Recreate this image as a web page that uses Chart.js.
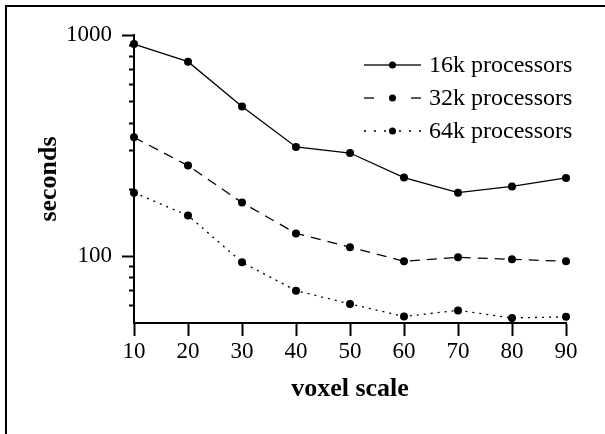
<!DOCTYPE html>
<html><head><meta charset="utf-8">
<script src="https://cdn.jsdelivr.net/npm/chart.js@4.4.0/dist/chart.umd.min.js"></script>
<style>
html,body{margin:0;padding:0;background:#fff;overflow:hidden;}
#wrap{position:relative;width:605px;height:434px;overflow:hidden;}
#frame{position:absolute;left:5px;top:5px;width:700px;height:600px;border-left:2px solid #000;border-top:2px solid #000;pointer-events:none;}
canvas{position:absolute;left:0;top:0;}
</style></head><body>
<div id="wrap"><canvas id="c" width="605" height="434"></canvas><div id="frame"></div></div>
<script>
const voxelScale = [10, 20, 30, 40, 50, 60, 70, 80, 90];
const seconds16k = [910, 758, 475, 312, 293, 227, 194, 207, 226];
const seconds32k = [345, 257, 175, 127, 110, 95, 99, 97, 95];
const seconds64k = [194, 153, 94, 70, 61, 53.5, 57, 52.7, 53.3];
const seriesLabels = ['16k processors', '32k processors', '64k processors'];
const majorYTicks = [100, 1000];
const minorYTicks = [60, 70, 80, 90, 200, 300, 400, 500, 600, 700, 800, 900];
const xTicks = [10, 20, 30, 40, 50, 60, 70, 80, 90];

const FAMILY = "'Liberation Serif', 'Times New Roman', serif";
const seriesValues = [seconds16k, seconds32k, seconds64k];
const seriesDash = [[], [10, 7], [2, 5]];
const legendDash = [[], [10, 30], [2, 8]];

const datasets = seriesValues.map((vals, i) => ({
  label: seriesLabels[i],
  data: voxelScale.map((x, j) => ({ x: x, y: vals[j] })),
  borderColor: '#000',
  backgroundColor: '#000',
  borderWidth: 1.3,
  borderDash: seriesDash[i],
  pointRadius: 4,
  pointBorderWidth: 0,
  pointBackgroundColor: '#000',
  clip: false,
  yAxisID: 'y',
  xAxisID: 'x'
}));

const legendPlugin = {
  id: 'customLegend',
  afterDraw(chart) {
    const ctx = chart.ctx;
    const x0 = 364, x1 = 421, xm = 392.5, tx = 429;
    const rows = [65, 98, 131];
    chart.data.datasets.forEach((ds, i) => {
      const y = rows[i];
      ctx.save();
      ctx.strokeStyle = '#000';
      ctx.fillStyle = '#000';
      ctx.lineWidth = ds.borderWidth;
      ctx.setLineDash(legendDash[i]);
      ctx.beginPath(); ctx.moveTo(x0, y); ctx.lineTo(xm, y); ctx.stroke();
      ctx.beginPath(); ctx.moveTo(x1, y); ctx.lineTo(xm, y); ctx.stroke();
      ctx.setLineDash([]);
      ctx.beginPath(); ctx.arc(xm, y, 3.5, 0, Math.PI * 2); ctx.fill();
      ctx.font = '24px ' + FAMILY;
      ctx.textBaseline = 'middle';
      ctx.textAlign = 'left';
      ctx.fillText(ds.label, tx, y + 1);
      ctx.restore();
    });
  }
};

new Chart(document.getElementById('c'), {
  type: 'line',
  data: { datasets: datasets },
  plugins: [legendPlugin],
  options: {
    responsive: false,
    animation: false,
    devicePixelRatio: 1,
    layout: { padding: { left: 0, top: 35, right: 39, bottom: 0 } },
    plugins: { legend: { display: false }, tooltip: { enabled: false } },
    scales: {
      x: {
        type: 'linear', min: 10, max: 90, position: 'bottom',
        afterBuildTicks: s => { s.ticks = xTicks.map(v => ({ value: v })); },
        afterFit: s => { s.height = 111; },
        grid: { drawOnChartArea: false, drawTicks: true, tickLength: 13, tickWidth: 2, tickColor: '#000' },
        border: { display: true, color: '#000', width: 2 },
        ticks: { color: '#000', font: { family: FAMILY, size: 23 }, padding: 2, maxRotation: 0, autoSkip: false },
        title: { display: true, text: 'voxel scale', color: '#000', font: { family: FAMILY, size: 26, weight: 'bold' }, padding: { top: 0, bottom: 29 } }
      },
      y: {
        type: 'logarithmic', min: 50, max: 1000, position: 'left', weight: 1,
        afterBuildTicks: s => { s.ticks = majorYTicks.map(v => ({ value: v })); },
        afterFit: s => { s.width = 134; },
        grid: { drawOnChartArea: false, drawTicks: true, tickLength: 12, tickWidth: 2, tickColor: '#000' },
        border: { display: true, color: '#000', width: 2 },
        ticks: { color: '#000', font: { family: FAMILY, size: 23 }, padding: 10, autoSkip: false, callback: v => String(v) },
        title: { display: true, text: 'seconds', color: '#000', font: { family: FAMILY, size: 26, weight: 'bold' }, padding: { top: 34, bottom: 0 } }
      },
      yMinor: {
        type: 'logarithmic', min: 50, max: 1000, position: 'left', weight: 0,
        afterBuildTicks: s => { s.ticks = minorYTicks.map(v => ({ value: v })); },
        afterFit: s => { s.width = 0; },
        grid: { drawOnChartArea: false, drawTicks: true, tickLength: 5, tickWidth: 2, tickColor: '#000' },
        border: { display: false },
        ticks: { display: false }
      }
    }
  }
});
</script>
</body></html>
